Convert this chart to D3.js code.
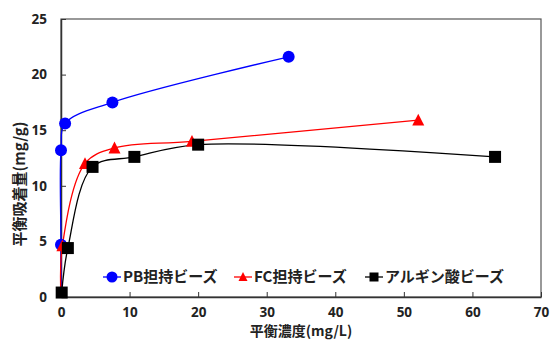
<!DOCTYPE html>
<html lang="ja">
<head>
<meta charset="UTF-8">
<title>平衡吸着量</title>
<script src="https://d3js.org/d3.v7.min.js"></script>
<style>
    body { margin: 0; background: #fff; }
    svg { display: block; font-family: "Noto Sans CJK JP", "Noto Sans", sans-serif; }
    .tick text { font-family: "Open Sans", sans-serif; font-size: 13.5px; font-weight: bold; fill: #222; }
</style>
</head>
<body>
<div id="chart"></div>
<script>
    // データ (x: 平衡濃度 mg/L, y: 平衡吸着量 mg/g)
    const pbX = [0, 0, 0, 0.6, 7.5, 33.2];
    const pbY = [0, 4.7, 13.2, 15.6, 17.5, 21.6];
    const fcX = [0, 0.2, 3.5, 7.8, 19.1, 52.1];
    const fcY = [0, 4.6, 12.0, 13.4, 14.0, 15.9];
    const alX = [0.1, 1.0, 4.6, 10.7, 20.0, 63.3];
    const alY = [0.4, 4.4, 11.7, 12.6, 13.7, 12.6];
    const xTicks = [0, 10, 20, 30, 40, 50, 60, 70];
    const yTicks = [0, 5, 10, 15, 20, 25];
    const seriesNames = ["PB担持ビーズ", "FC担持ビーズ", "アルギン酸ビーズ"];

    const width = 550, height = 340;
    const margin = {left: 61, right: 9, top: 19, bottom: 43};
    const svg = d3.select("#chart").append("svg")
        .attr("width", width)
        .attr("height", height);

    const x = d3.scaleLinear().domain([0, 70]).range([margin.left, width - margin.right]);
    const y = d3.scaleLinear().domain([0, 25]).range([height - margin.bottom, margin.top]);

    // plot frame
    svg.append("rect")
        .attr("x", x(0)).attr("y", y(25))
        .attr("width", x(70) - x(0)).attr("height", y(0) - y(25))
        .attr("fill", "none").attr("stroke", "#555").attr("stroke-width", 1.2);

    const xAxis = svg.append("g")
        .attr("transform", `translate(0,${y(0)})`)
        .call(d3.axisBottom(x).tickValues(xTicks).tickSizeInner(-5).tickSizeOuter(0).tickPadding(10));
    const yAxis = svg.append("g")
        .attr("transform", `translate(${x(0)},0)`)
        .call(d3.axisLeft(y).tickValues(yTicks).tickSizeInner(-5).tickSizeOuter(0).tickPadding(14));
    [xAxis, yAxis].forEach(a => {
        a.select(".domain").attr("stroke", "#333").attr("stroke-width", 1.5);
        a.selectAll(".tick line").attr("stroke", "#333");
    });

    // axis titles
    svg.append("text")
        .attr("x", (x(0) + x(70)) / 2).attr("y", 336)
        .attr("text-anchor", "middle")
        .attr("font-size", 14).attr("font-weight", "bold").attr("fill", "#222")
        .text("平衡濃度(mg/L)");
    svg.append("text")
        .attr("transform", "translate(20,184) rotate(-90)")
        .attr("text-anchor", "middle")
        .attr("dy", "0.35em")
        .attr("font-size", 15).attr("font-weight", "bold").attr("fill", "#222")
        .text("平衡吸着量(mg/g)");

    const series = [
        {xs: pbX, ys: pbY, color: "#0000ff", shape: "circle"},
        {xs: fcX, ys: fcY, color: "#ff0000", shape: "triangle"},
        {xs: alX, ys: alY, color: "#000000", shape: "square"}
    ];

    const line = d3.line()
        .x(d => x(d[0]))
        .y(d => y(d[1]))
        .curve(d3.curveCatmullRom.alpha(0.5));

    function drawMarker(g, shape, color, cx, cy, s) {
        if (shape === "circle") {
            g.append("circle").attr("cx", cx).attr("cy", cy).attr("r", s / 2).attr("fill", color);
        } else if (shape === "square") {
            g.append("rect").attr("x", cx - s / 2).attr("y", cy - s / 2)
                .attr("width", s).attr("height", s).attr("fill", color);
        } else {
            const h = s * 0.9;
            g.append("path")
                .attr("d", `M${cx},${cy - h / 2 - 1}L${cx + s / 2},${cy + h / 2}L${cx - s / 2},${cy + h / 2}Z`)
                .attr("fill", color);
        }
    }

    const plot = svg.append("g");
    series.forEach(s => {
        const pts = s.xs.map((v, i) => [v, s.ys[i]]);
        plot.append("path")
            .datum(pts)
            .attr("d", line)
            .attr("fill", "none")
            .attr("stroke", s.color)
            .attr("stroke-width", 1.3);
    });
    series.forEach(s => {
        s.xs.forEach((v, i) => {
            // origin points sit under the black square
            if (s.shape !== "square" && v === 0 && s.ys[i] === 0) return;
            drawMarker(plot, s.shape, s.color, x(v), y(s.ys[i]), 12);
        });
    });

    // legend
    const legendX = [103, 234, 365];
    const legendY = 277;
    series.forEach((s, i) => {
        const g = svg.append("g");
        g.append("line")
            .attr("x1", legendX[i]).attr("x2", legendX[i] + 18)
            .attr("y1", legendY).attr("y2", legendY)
            .attr("stroke", s.color).attr("stroke-width", 1.3);
        drawMarker(g, s.shape, s.color, legendX[i] + 9, legendY, s.shape === "circle" ? 11 : 9);
        g.append("text")
            .attr("x", legendX[i] + 20).attr("y", legendY + 5)
            .attr("font-size", 15).attr("font-weight", "bold").attr("fill", "#222")
            .text(seriesNames[i]);
    });
</script>
</body>
</html>
